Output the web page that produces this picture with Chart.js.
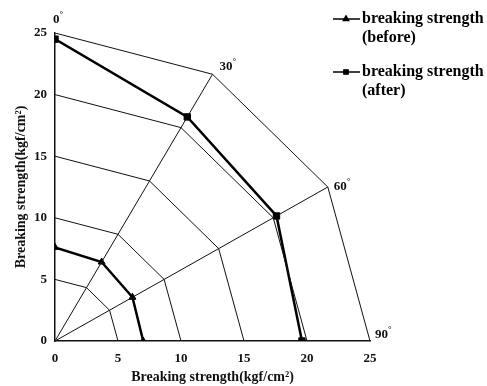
<!DOCTYPE html>
<html>
<head>
<meta charset="utf-8">
<script src="https://cdn.jsdelivr.net/npm/chart.js@4"></script>
<style>
  html, body { margin: 0; padding: 0; background: #fff; }
  #wrap { width: 487px; height: 386px; position: relative; }
</style>
</head>
<body>
<div id="wrap"><canvas id="c"></canvas></div>
<script>
// Directions (degrees from the vertical axis) and the values measured along each one
const angles = [0, 30, 60, 90];
const ringRadii = [5, 10, 15, 20, 25];
const beforeValues = [7.6, 7.4, 7.1, 7.0];
const afterValues = [24.5, 21.0, 20.3, 19.6];
const axisTicks = [0, 5, 10, 15, 20, 25];
const axisTitle = 'Breaking strength(kgf/cm\u00B2)';
const seriesLabels = [['breaking strength', '(before)'], ['breaking strength', '(after)']];

const FONT = '"Liberation Serif", "DejaVu Serif", serif';
const INK = '#111';

// polar value -> cartesian point; 0° points up the y axis, 90° along the x axis
function polar(r, deg) {
  const a = deg * Math.PI / 180;
  return { x: r * Math.sin(a), y: r * Math.cos(a) };
}

const ringSets = ringRadii.map(r => ({
  data: angles.map(a => polar(r, a)),
  showLine: true, borderColor: INK, borderWidth: 1, pointRadius: 0
}));
const raySets = angles.filter(a => a !== 0 && a !== 90).map(a => ({
  data: [polar(0, a), polar(ringRadii[ringRadii.length - 1], a)],
  showLine: true, borderColor: INK, borderWidth: 1, pointRadius: 0
}));

const beforeSet = {
  label: seriesLabels[0].join(' '),
  data: angles.map((a, i) => polar(beforeValues[i], a)),
  showLine: true, borderColor: '#000', backgroundColor: '#000', borderWidth: 2.5,
  pointStyle: 'triangle', pointRadius: 4, pointBorderWidth: 1
};
const afterSet = {
  label: seriesLabels[1].join(' '),
  data: angles.map((a, i) => polar(afterValues[i], a)),
  showLine: true, borderColor: '#000', backgroundColor: '#000', borderWidth: 2.5,
  pointStyle: 'rect', pointRadius: 4.5, pointBorderWidth: 1
};

// direction labels at the outer ring
const angleLabelPlugin = {
  id: 'angleLabels',
  afterDatasetsDraw(chart) {
    const { ctx, scales: { x, y } } = chart;
    const outer = ringRadii[ringRadii.length - 1];
    const offsets = [[-2, -10], [7, -4], [6, 3], [5, -3]];
    ctx.save();
    ctx.fillStyle = INK;
    ctx.textAlign = 'left';
    ctx.textBaseline = 'alphabetic';
    angles.forEach((a, i) => {
      const p = polar(outer, a);
      const px = x.getPixelForValue(p.x) + offsets[i][0];
      const py = y.getPixelForValue(p.y) + offsets[i][1];
      ctx.font = 'bold 13px ' + FONT;
      const txt = String(a);
      ctx.fillText(txt, px, py);
      const w = ctx.measureText(txt).width;
      ctx.font = 'bold 9px ' + FONT;
      ctx.fillText('\u00B0', px + w, py - 6);
    });
    ctx.restore();
  }
};

// legend block in the upper right corner
const legendPlugin = {
  id: 'cornerLegend',
  afterDraw(chart) {
    const { ctx } = chart;
    const entries = [beforeSet, afterSet];
    const rows = [19, 72];
    ctx.save();
    entries.forEach((ds, i) => {
      const yy = rows[i];
      ctx.strokeStyle = '#000';
      ctx.lineWidth = 1.5;
      ctx.beginPath();
      ctx.moveTo(333, yy);
      ctx.lineTo(360, yy);
      ctx.stroke();
      ctx.fillStyle = '#000';
      Chart.helpers.drawPoint(ctx, { pointStyle: ds.pointStyle, radius: 3, rotation: 0, borderWidth: 1 }, 346, yy);
      ctx.fill();
      ctx.font = 'bold 16px ' + FONT;
      ctx.textAlign = 'left';
      ctx.textBaseline = 'middle';
      ctx.fillText(seriesLabels[i][0], 362, yy);
      ctx.fillText(seriesLabels[i][1], 362, yy + 19);
    });
    ctx.restore();
  }
};

const tickFont = { family: FONT, size: 13, weight: 'bold' };
const titleFont = { family: FONT, size: 14, weight: 'bold' };

new Chart(document.getElementById('c'), {
  type: 'scatter',
  data: { datasets: [...ringSets, ...raySets, beforeSet, afterSet] },
  options: {
    responsive: true,
    maintainAspectRatio: false,
    animation: false,
    layout: { padding: { top: 33, right: 117, left: 13, bottom: 0 } },
    plugins: { legend: { display: false }, tooltip: { enabled: false } },
    scales: {
      x: {
        type: 'linear', min: axisTicks[0], max: axisTicks[axisTicks.length - 1],
        afterBuildTicks: s => { s.ticks = axisTicks.map(v => ({ value: v })); },
        afterFit: s => { s.height = 45; },
        grid: { display: false, drawTicks: false },
        border: { display: true, color: INK, width: 1.5 },
        ticks: { color: INK, font: tickFont, padding: 10 },
        title: { display: true, text: axisTitle, color: INK, font: titleFont, padding: { top: 2, bottom: 0 } }
      },
      y: {
        type: 'linear', min: axisTicks[0], max: axisTicks[axisTicks.length - 1],
        afterBuildTicks: s => { s.ticks = axisTicks.map(v => ({ value: v })); },
        afterFit: s => { s.width = 42; },
        grid: { display: false, drawTicks: false },
        border: { display: true, color: INK, width: 1.5 },
        ticks: { color: INK, font: tickFont, padding: 8 },
        title: { display: true, text: axisTitle, color: INK, font: titleFont, padding: { top: 0, bottom: 2 } }
      }
    }
  },
  plugins: [angleLabelPlugin, legendPlugin]
});
</script>
</body>
</html>
